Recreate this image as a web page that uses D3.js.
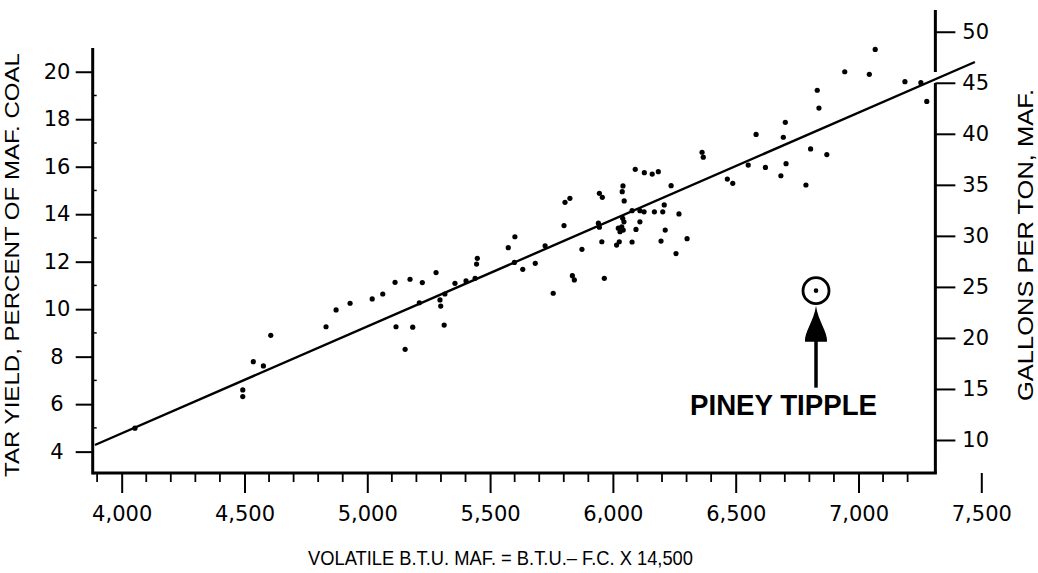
<!DOCTYPE html>
<html><head><meta charset="utf-8">
<script src="https://cdn.jsdelivr.net/npm/d3@7"></script>
<style>
html,body{margin:0;padding:0;background:#fff;}
svg{display:block;}
text{fill:#000;}
</style></head>
<body>
<svg id="chart" width="1038" height="573"></svg>
<script>
// ---- data ----
const btu = [4054,4493,4493,4536,4577,4607,4832,4873,4930,5020,5063,5113,5174,5224,5280,5117,5185,5154,5313,5212,
  5296,5299,5316,5357,5402,5439,5448,5445,5599,5574,5601,5633,5684,5724,5757,5801,5805,5825,5835,5843,
  5874,5941,5945,5945,5957,5955,5965,6041,6038,6046,6040,6045,6022,6036,6029,6042,6015,6026,6078,6078,
  6110,6127,6110,6094,6091,6128,6160,6185,6169,6203,6209,6213,6196,6237,6269,6302,6257,6466,6363,6368,
  6488,6551,6583,6621,6684,6694,6702,6705,6786,6805,6832,6839,6871,6944,7044,7068,7189,7254,7278];
const tar = [4.99,6.60,6.32,7.79,7.61,8.90,9.26,9.97,10.25,10.43,10.64,11.13,11.26,11.12,11.54,9.26,9.24,8.31,9.33,10.27,
  10.39,10.13,10.64,11.09,11.19,11.30,12.14,11.90,11.97,12.59,13.05,11.68,11.93,12.67,10.67,13.52,14.50,14.67,11.41,11.23,
  12.52,13.62,13.45,14.88,14.71,12.84,11.30,15.19,14.95,14.56,13.83,13.68,13.41,13.47,13.26,13.33,12.70,12.84,12.83,14.15,
  14.15,14.10,13.68,13.36,15.89,15.75,15.69,15.79,14.10,14.10,14.39,13.33,12.87,15.20,14.01,12.97,12.34,15.48,16.61,16.40,
  15.30,16.07,17.36,15.97,15.62,17.24,17.87,16.13,15.23,16.75,19.22,18.47,16.51,20.00,19.89,20.94,19.58,19.54,18.75];
const fitBtu = [3891, 7474];
const fitTar = [4.28, 20.41];
const pineyBtu = 6827, pineyTar = 10.78;
const pineyLabel = "PINEY TIPPLE";
const tarTicks = [4,6,8,10,12,14,16,18,20];
const tarMinor = [5,7,9,11,13,15,17,19];
const gallonTicks = [10,15,20,25,30,35,40,45,50];
const btuTicks = [4000,4500,5000,5500,6000,6500,7000,7500];
const btuMinor = d3.range(3900, 7300, 100).filter(v => v % 500 !== 0);
const leftTitle = "TAR YIELD, PERCENT OF MAF. COAL";
const rightTitle = "GALLONS PER TON, MAF.";
const bottomTitle = "VOLATILE  B.T.U. MAF. = B.T.U.\u2013 F.C. X 14,500";

// ---- scales ----
const x = d3.scaleLinear().domain([3882, 7500]).range([92.7, 981.3]);
const y = d3.scaleLinear().domain([3.1, 21.0]).range([473, 48]);
const g = d3.scaleLinear().domain([7.06, 52.13]).range([470, 10]);

const svg = d3.select("#chart");
const xL = x(3882), xR = x(7313), yB = 473;
const tickFont = "'DejaVu Sans', sans-serif";

// fit line
svg.append("path")
  .attr("d", d3.line().x(d => x(d[0])).y(d => y(d[1]))(d3.zip(fitBtu, fitTar)))
  .attr("stroke", "#000").attr("stroke-width", 2.4).attr("fill", "none");

// left axis
const la = svg.append("g").attr("transform", `translate(${xL},0)`)
  .call(d3.axisLeft(y).tickValues(tarTicks).tickSize(17).tickPadding(7).tickFormat(d3.format("d")));
la.select(".domain").remove();
la.selectAll("line").attr("stroke", "#000").attr("stroke-width", 2);
la.selectAll("text").attr("font-family", tickFont).attr("font-size", 21).attr("fill", "#000")
  .attr("text-anchor", "middle").attr("x", 57 - xL);
svg.append("g").selectAll("line").data(tarMinor).join("line")
  .attr("x1", xL).attr("x2", xL + 4).attr("y1", d => y(d)).attr("y2", d => y(d))
  .attr("stroke", "#000").attr("stroke-width", 1.5);
svg.append("line").attr("x1", xL).attr("x2", xL).attr("y1", 48).attr("y2", yB + 1.5)
  .attr("stroke", "#000").attr("stroke-width", 3);

// bottom axis
const ba = svg.append("g").attr("transform", `translate(0,${yB})`)
  .call(d3.axisBottom(x).tickValues(btuTicks).tickSize(20).tickFormat(d3.format(",")));
ba.select(".domain").remove();
ba.selectAll("line").attr("stroke", "#000").attr("stroke-width", 2);
ba.selectAll("text").attr("font-family", tickFont).attr("font-size", 21).attr("fill", "#000")
  .attr("y", 48).attr("dy", 0);
svg.append("g").selectAll("line").data(btuMinor).join("line")
  .attr("x1", d => x(d)).attr("x2", d => x(d)).attr("y1", yB).attr("y2", yB + 9)
  .attr("stroke", "#000").attr("stroke-width", 1.8);
svg.append("line").attr("x1", xL).attr("x2", xR + 1.5).attr("y1", yB).attr("y2", yB)
  .attr("stroke", "#000").attr("stroke-width", 3);

// right axis
const ra = svg.append("g").attr("transform", `translate(${xR},0)`)
  .call(d3.axisRight(g).tickValues(gallonTicks).tickSize(20).tickPadding(7).tickFormat(d3.format("d")));
ra.select(".domain").remove();
ra.selectAll("line").attr("stroke", "#000").attr("stroke-width", 2);
ra.selectAll("text").attr("font-family", tickFont).attr("font-size", 21).attr("fill", "#000");
svg.append("line").attr("x1", xR).attr("x2", xR).attr("y1", 10).attr("y2", 72)
  .attr("stroke", "#000").attr("stroke-width", 3);
svg.append("line").attr("x1", xR).attr("x2", xR).attr("y1", 83).attr("y2", yB)
  .attr("stroke", "#000").attr("stroke-width", 3);

// points
svg.append("g").selectAll("circle").data(d3.zip(btu, tar)).join("circle")
  .attr("cx", d => x(d[0])).attr("cy", d => y(d[1])).attr("r", 2.6).attr("fill", "#000");

// Piney Tipple
const px = x(pineyBtu), py = y(pineyTar);
svg.append("circle").attr("cx", px).attr("cy", py).attr("r", 2.3).attr("fill", "#000");
svg.append("circle").attr("cx", px).attr("cy", py).attr("r", 13).attr("fill", "none")
  .attr("stroke", "#000").attr("stroke-width", 2.8);
svg.append("path")
  .attr("d", `M${px},${py+15} C${px+2},${py+30} ${px+12},${py+42} ${px+11},${py+51} L${px-11},${py+51} C${px-12},${py+42} ${px-2},${py+30} ${px},${py+15} Z`)
  .attr("fill", "#000");
svg.append("line").attr("x1", px).attr("x2", px).attr("y1", py + 50).attr("y2", py + 97)
  .attr("stroke", "#000").attr("stroke-width", 3.5);
svg.append("text").attr("x", 690).attr("y", 415)
  .attr("font-family", "'Liberation Sans', Arial, sans-serif").attr("font-weight", "bold")
  .attr("font-size", 29).attr("textLength", 187).attr("lengthAdjust", "spacingAndGlyphs")
  .text(pineyLabel);

// titles
svg.append("text").attr("transform", "translate(19,265) rotate(-90)")
  .attr("text-anchor", "middle").attr("font-family", "'Liberation Sans', sans-serif")
  .attr("font-size", 21).attr("textLength", 424).attr("lengthAdjust", "spacingAndGlyphs")
  .text(leftTitle);
svg.append("text").attr("transform", "translate(1033,245) rotate(-90)")
  .attr("text-anchor", "middle").attr("font-family", "'Liberation Sans', sans-serif")
  .attr("font-size", 22).attr("textLength", 312).attr("lengthAdjust", "spacingAndGlyphs")
  .text(rightTitle);
svg.append("text").attr("x", 308).attr("y", 565)
  .attr("font-family", "'Liberation Sans Narrow', 'Liberation Sans', sans-serif")
  .attr("font-size", 21).attr("textLength", 385).attr("lengthAdjust", "spacingAndGlyphs")
  .text(bottomTitle);
</script>
</body></html>
